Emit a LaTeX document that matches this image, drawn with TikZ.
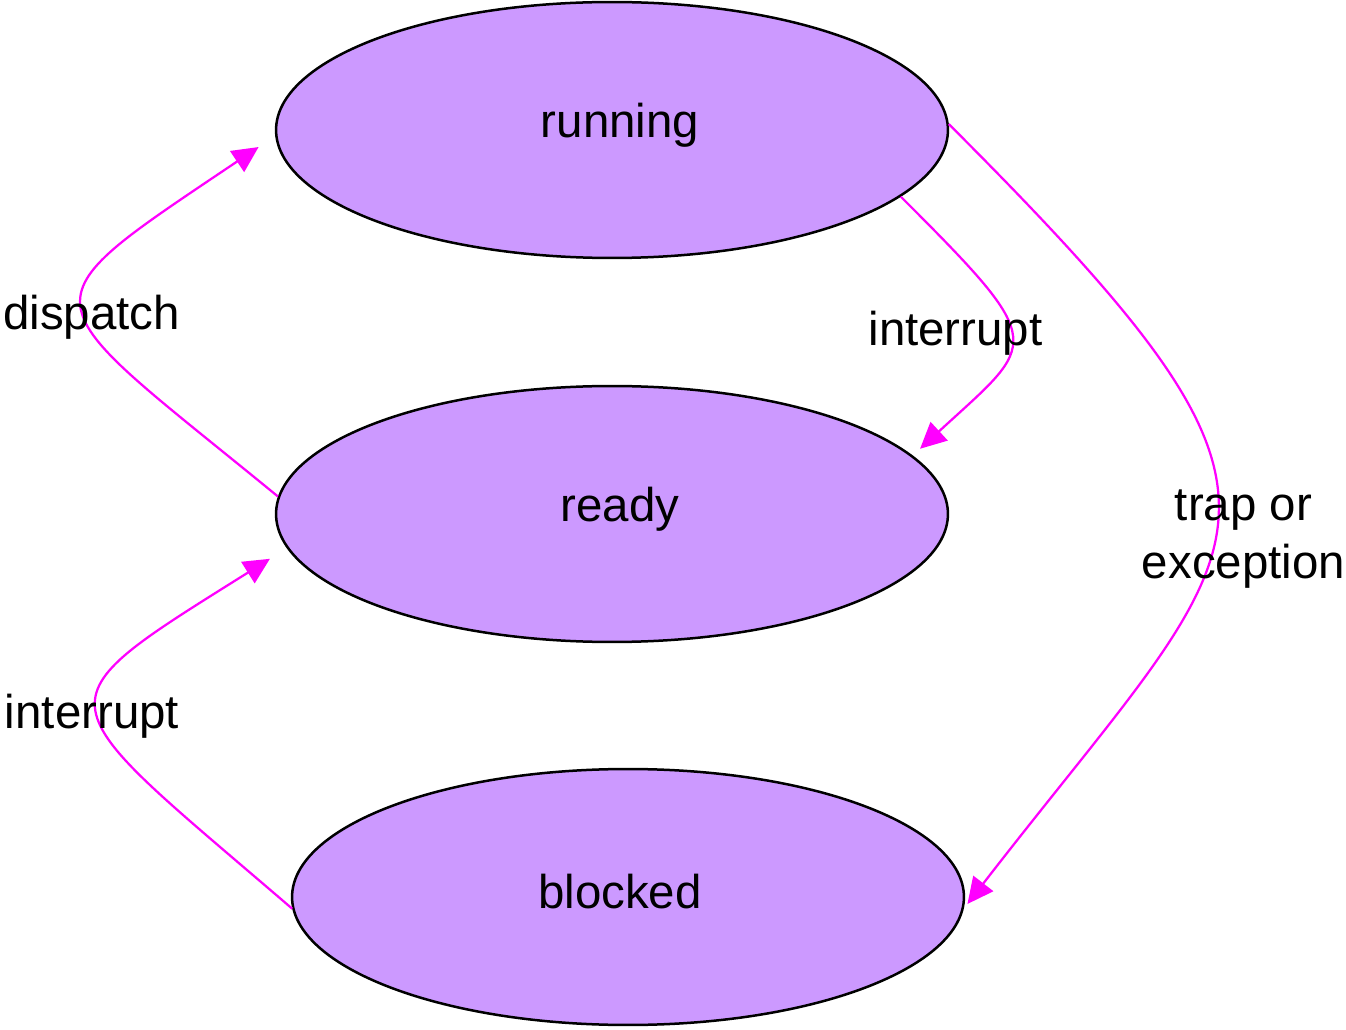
\documentclass[tikz,border=0pt]{standalone}
\usepackage{fontspec}
\setmainfont{Liberation Sans}
\usetikzlibrary{shapes.geometric,arrows.meta}
\definecolor{lilac}{HTML}{CC99FF}
\definecolor{mag}{HTML}{FF00FF}
\begin{document}
\begin{tikzpicture}[x=0.02cm,y=0.02cm]
    \tikzset{%
      state/.style={ellipse, draw=black, fill=lilac, line width=0.05cm,
        minimum width=13.44cm, minimum height=5.12cm, inner sep=0pt},
      trans/.style={draw=mag, line width=0.045cm,
        -{Triangle[length=0.52cm, width=0.5cm]}},
      lbl/.style={inner sep=0pt, align=center},
    }
    \useasboundingbox (0,0) rectangle (1346,1029);
    \fontsize{27pt}{33pt}\selectfont
    % states
    \node[state, label={[lbl, xshift=0.16cm, yshift=0.1cm]center:running}]
      (running) at (612,899) {};
    \node[state, label={[lbl, xshift=0.16cm, yshift=0.1cm]center:ready}]
      (ready) at (612,515) {};
    \node[state, label={[lbl, xshift=-0.16cm, yshift=0.1cm]center:blocked}]
      (blocked) at (628,132) {};
    % ready -> running
    \draw [trans, shorten >=0.4cm] (ready.177)
      .. controls +(-250,205) and +(-260,-175) .. (running.181);
    \node[lbl] (Ldispatch) at (91.5,712) {dispatch};
    % running -> ready
    \draw [trans, shorten >=0.2cm] (running.-13)
      .. controls +(150,-150) and +(125,115) .. (ready.11);
    \node[lbl] (Lint1) at (955.5,696) {interrupt};
    % running -> blocked
    \draw [trans, shorten >=0.12cm] (running.1)
      .. controls +(396,-396) and +(297,384) .. (blocked.-2);
    \node[lbl] (Ltrap) at (1243.5,490) {trap or\\exception};
    % blocked -> ready
    \draw [trans, shorten >=0.4cm] (blocked.182.6)
      .. controls +(-250,215) and +(-255,-160) .. (ready.186);
    \node[lbl] (Lint2) at (92,313) {interrupt};
\end{tikzpicture}
\end{document}
